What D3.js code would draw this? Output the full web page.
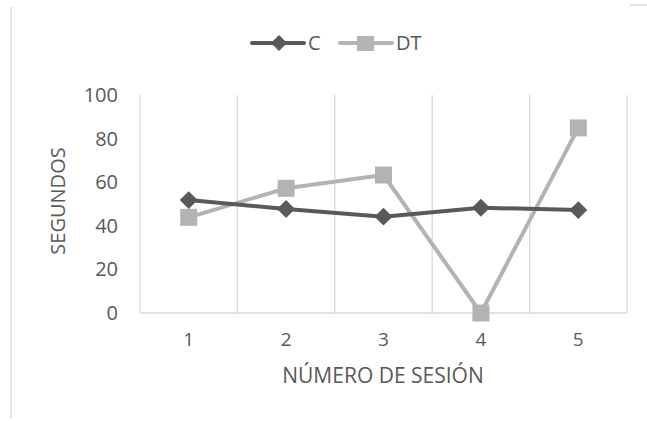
<!DOCTYPE html>
<html>
<head>
<meta charset="utf-8">
<script src="https://cdn.jsdelivr.net/npm/d3@7"></script>
<style>
  html, body { margin: 0; padding: 0; background: #fff; }
  svg { display: block; font-family: "Open Sans", "Noto Sans", sans-serif; }
</style>
</head>
<body>
<svg id="chart" width="647" height="421"></svg>
<script>
// Session numbers and times (seconds) for each group
const sessions = ["1", "2", "3", "4", "5"];
const seriesC = [51.8, 47.7, 44.2, 48.3, 47.2];
const seriesDT = [43.9, 57.2, 63.3, 0, 84.9];
const yTicks = [0, 20, 40, 60, 80, 100];

const svg = d3.select("#chart");
const textColor = "#595959";
const gridColor = "#d9d9d9";
const colorC = "#595959";
const colorDT = "#b3b3b3";
const fontFamily = "'Open Sans', 'Noto Sans', sans-serif";

const plot = { left: 140, right: 627, top: 95, bottom: 313 };

const x = d3.scaleBand().domain(sessions).range([plot.left, plot.right]);
const y = d3.scaleLinear().domain([0, 100]).range([plot.bottom, plot.top]);

// chart frame edges
svg.append("line").attr("x1", 11).attr("x2", 11).attr("y1", 7).attr("y2", 418)
  .attr("stroke", gridColor).attr("stroke-width", 1.5);
svg.append("line").attr("x1", 630).attr("x2", 647).attr("y1", 5).attr("y2", 5)
  .attr("stroke", gridColor).attr("stroke-width", 1.5);

// vertical gridlines at category boundaries
const bounds = sessions.map(s => x(s)).concat([plot.right]);
svg.append("g").selectAll("line").data(bounds).join("line")
  .attr("x1", d => d).attr("x2", d => d)
  .attr("y1", plot.top).attr("y2", plot.bottom)
  .attr("stroke", gridColor).attr("stroke-width", 1.3);

// category axis line
svg.append("line").attr("x1", plot.left).attr("x2", plot.right)
  .attr("y1", plot.bottom).attr("y2", plot.bottom)
  .attr("stroke", gridColor).attr("stroke-width", 1.3);

// y tick labels
const yAxis = d3.axisLeft(y).tickValues(yTicks).tickSize(0).tickPadding(0);
const gy = svg.append("g").attr("transform", `translate(${plot.left - 22},0)`).call(yAxis);
gy.select(".domain").remove();
gy.selectAll("text").attr("fill", textColor).style("font-size", "20px")
  .style("font-family", fontFamily);

// x tick labels
const xAxis = d3.axisBottom(x).tickSize(0).tickPadding(0);
const gx = svg.append("g").attr("transform", `translate(0,${plot.bottom + 19})`).call(xAxis);
gx.select(".domain").remove();
gx.selectAll("text").attr("fill", textColor).style("font-size", "19px")
  .style("font-family", fontFamily);

// axis titles
svg.append("text").attr("x", 383).attr("y", 383).attr("text-anchor", "middle")
  .attr("fill", textColor).style("font-size", "21px").text("NÚMERO DE SESIÓN");
svg.append("text").attr("transform", "translate(65,201) rotate(-90)")
  .attr("text-anchor", "middle").attr("fill", textColor)
  .style("font-size", "20px").text("SEGUNDOS");

const cx = s => x(s) + x.bandwidth() / 2;
const line = d3.line().x((d, i) => cx(sessions[i])).y(d => y(d));

// DT series
svg.append("path").datum(seriesDT).attr("d", line)
  .attr("fill", "none").attr("stroke", colorDT).attr("stroke-width", 4)
  .attr("stroke-linejoin", "round");
// C series
svg.append("path").datum(seriesC).attr("d", line)
  .attr("fill", "none").attr("stroke", colorC).attr("stroke-width", 4)
  .attr("stroke-linejoin", "round");

const sq = 17;
svg.append("g").selectAll("rect").data(seriesDT).join("rect")
  .attr("x", (d, i) => cx(sessions[i]) - sq / 2).attr("y", d => y(d) - sq / 2)
  .attr("width", sq).attr("height", sq).attr("fill", colorDT);

const diamond = d3.symbol().type(d3.symbolSquare).size(160);
svg.append("g").selectAll("path").data(seriesC).join("path")
  .attr("d", diamond)
  .attr("transform", (d, i) => `translate(${cx(sessions[i])},${y(d)}) rotate(45)`)
  .attr("fill", colorC);

// legend
const lg = svg.append("g");
lg.append("line").attr("x1", 252).attr("x2", 304).attr("y1", 43).attr("y2", 43)
  .attr("stroke", colorC).attr("stroke-width", 4).attr("stroke-linecap", "round");
lg.append("path").attr("d", d3.symbol().type(d3.symbolSquare).size(130)())
  .attr("transform", "translate(279,43) rotate(45)").attr("fill", colorC);
lg.append("text").attr("x", 308).attr("y", 50).attr("fill", textColor)
  .style("font-size", "20px").text("C");
lg.append("line").attr("x1", 340).attr("x2", 392).attr("y1", 43).attr("y2", 43)
  .attr("stroke", colorDT).attr("stroke-width", 4).attr("stroke-linecap", "round");
lg.append("rect").attr("x", 357).attr("y", 36).attr("width", 17).attr("height", 15)
  .attr("fill", colorDT);
lg.append("text").attr("x", 396).attr("y", 50).attr("fill", textColor)
  .style("font-size", "20px").text("DT");
</script>
</body>
</html>
